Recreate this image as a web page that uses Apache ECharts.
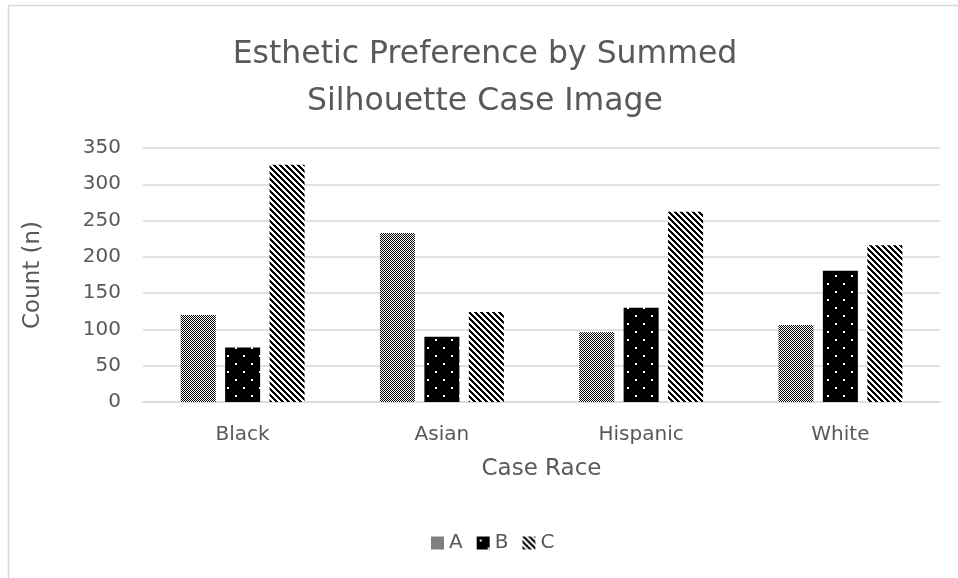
<!DOCTYPE html>
<html>
<head>
<meta charset="utf-8">
<script src="https://cdn.jsdelivr.net/npm/echarts@6/dist/echarts.min.js"></script>
<style>
  html, body { margin: 0; padding: 0; background: #fff; }
  #chart { width: 958px; height: 578px; }
</style>
</head>
<body>
<div id="chart"></div>
<script>
// Case race categories and counts per preferred image
const categories = ['Black', 'Asian', 'Hispanic', 'White'];
const seriesNames = ['A', 'B', 'C'];
const valuesA = [120, 233, 96, 106];
const valuesB = [75, 90, 130, 181];
const valuesC = [327, 124, 262, 216];
const yTicks = { min: 0, max: 350, interval: 50 };

const FONT = 'DejaVu Sans';
const TEXT = '#595959';
const GRID_LINE = '#d9d9d9';

// Fill patterns drawn on small tiles
function tile(size, paint) {
  const c = document.createElement('canvas');
  c.width = size; c.height = size;
  const ctx = c.getContext('2d');
  paint(ctx, size);
  return { image: c, repeat: 'repeat' };
}
// fine checkerboard
const checker = tile(2, (ctx) => {
  ctx.fillStyle = '#fff'; ctx.fillRect(0, 0, 2, 2);
  ctx.fillStyle = '#000'; ctx.fillRect(0, 0, 1, 1); ctx.fillRect(1, 1, 1, 1);
});
// black with sparse white dots
const dots = tile(16, (ctx) => {
  ctx.fillStyle = '#000'; ctx.fillRect(0, 0, 16, 16);
  ctx.fillStyle = '#fff'; ctx.fillRect(3, 3, 2, 2); ctx.fillRect(11, 11, 2, 2);
});
// wide downward diagonal stripes
const stripes = tile(6, (ctx, n) => {
  ctx.fillStyle = '#fff'; ctx.fillRect(0, 0, n, n);
  ctx.fillStyle = '#000';
  for (let y = 0; y < n; y++) {
    for (let x = 0; x < n; x++) {
      if ((((x - y) % n) + n) % n < 3) ctx.fillRect(x, y, 1, 1);
    }
  }
});

const fills = [checker, dots, stripes];
const allValues = [valuesA, valuesB, valuesC];

const chart = echarts.init(document.getElementById('chart'), null, { renderer: 'canvas' });
chart.setOption({
  backgroundColor: '#fff',
  animation: false,
  title: {
    text: 'Esthetic Preference by Summed\nSilhouette Case Image',
    left: 480,
    textAlign: 'center',
    top: 26,
    textStyle: { fontFamily: FONT, fontSize: 31.5, fontWeight: 'normal', color: TEXT, lineHeight: 47 }
  },
  legend: {
    bottom: 20,
    left: 426,
    itemWidth: 13,
    itemHeight: 13,
    itemGap: 14,
    icon: 'rect',
    textStyle: { fontFamily: FONT, fontSize: 20, color: TEXT },
    data: seriesNames
  },
  grid: { left: 143, right: 18, top: 148, bottom: 176, containLabel: false },
  xAxis: {
    type: 'category',
    data: categories,
    name: 'Case Race',
    nameLocation: 'middle',
    nameGap: 56,
    nameTextStyle: { fontFamily: FONT, fontSize: 23, color: TEXT },
    axisLine: { lineStyle: { color: GRID_LINE, width: 1.5 } },
    axisTick: { show: false },
    axisLabel: { fontFamily: FONT, fontSize: 20, color: TEXT, margin: 23 }
  },
  yAxis: {
    type: 'value',
    min: yTicks.min,
    max: yTicks.max,
    interval: yTicks.interval,
    name: 'Count (n)',
    nameLocation: 'middle',
    nameGap: 98,
    nameRotate: 90,
    nameTextStyle: { fontFamily: FONT, fontSize: 23, color: TEXT },
    axisLine: { show: false },
    axisTick: { show: false },
    axisLabel: { fontFamily: FONT, fontSize: 20, color: TEXT, margin: 22 },
    splitLine: { lineStyle: { color: GRID_LINE, width: 1.5 } }
  },
  graphic: [{
    type: 'rect',
    shape: { x: 8.5, y: 5.5, width: 1200, height: 1200 },
    style: { fill: 'none', stroke: GRID_LINE, lineWidth: 1.5 },
    silent: true,
    z: -1
  }],
  series: seriesNames.map((name, i) => ({
    name,
    type: 'bar',
    data: allValues[i],
    barWidth: 35,
    barGap: '27%',
    itemStyle: { color: fills[i] }
  }))
});
</script>
</body>
</html>
